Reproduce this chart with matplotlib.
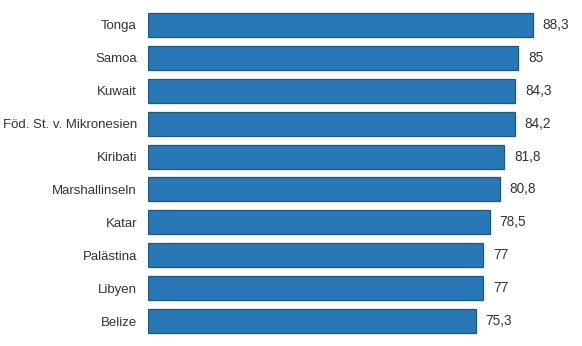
import matplotlib.pyplot as plt

countries = ['Tonga', 'Samoa', 'Kuwait', 'Föd. St. v. Mikronesien', 'Kiribati',
             'Marshallinseln', 'Katar', 'Palästina', 'Libyen', 'Belize']
values = [88.3, 85, 84.3, 84.2, 81.8, 80.8, 78.5, 77, 77, 75.3]

plt.rcParams['font.family'] = ['Liberation Sans', 'DejaVu Sans']

fig = plt.figure(figsize=(5.82, 3.46), dpi=100)
ax = fig.add_axes([148 / 582, 0, 434 / 582, 1])

pos = list(range(len(countries)))
ax.barh(pos, values, height=0.73, color='#2878b8', edgecolor='#1c5685', linewidth=0.9)

for p, v in zip(pos, values):
    txt = f'{v:g}'.replace('.', ',')
    ax.text(v + 2.2, p, txt, va='center', ha='left', fontsize=9.8, color='#333333')

ax.set_xlim(0, 434 / 4.357)
ax.set_ylim(9.76, -0.76)
ax.set_yticks(pos)
ax.set_yticklabels(countries, fontsize=9.5, color='#333333')
ax.tick_params(axis='y', length=0, pad=8)
ax.set_xticks([])
for sp in ax.spines.values():
    sp.set_visible(False)

fig.savefig('out.png', dpi=100)
